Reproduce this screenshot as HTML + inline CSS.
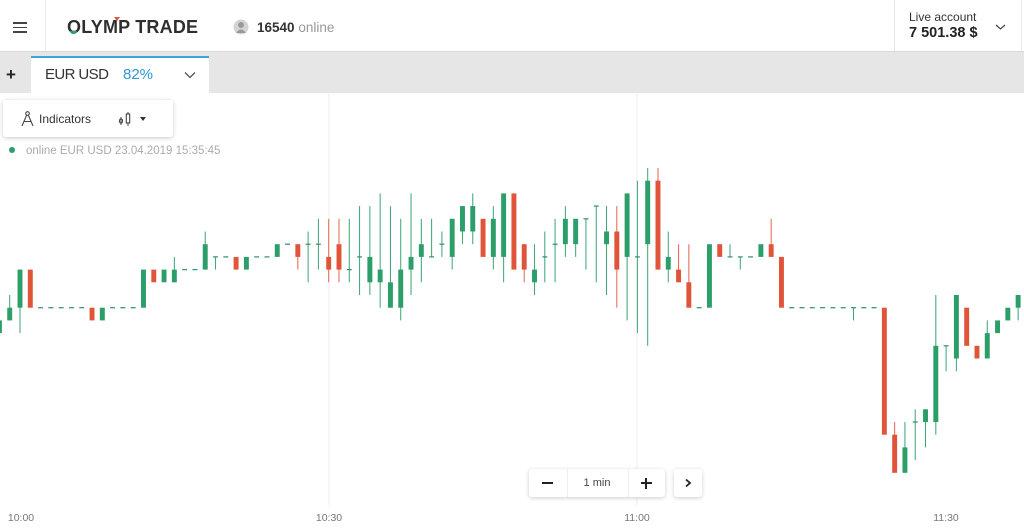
<!DOCTYPE html>
<html><head><meta charset="utf-8">
<style>
*{margin:0;padding:0;box-sizing:border-box}
body{width:1024px;height:528px;overflow:hidden;background:#fff;font-family:"Liberation Sans",Arial,sans-serif;position:relative;color:#333}
.a{position:absolute;white-space:nowrap;line-height:1}
</style></head><body>
<!-- chart -->
<svg class="a" style="left:0;top:0" width="1024" height="528" viewBox="0 0 1024 528">
<line x1="329" y1="93" x2="329" y2="505" stroke="#ededed" stroke-width="1"/>
<line x1="637" y1="93" x2="637" y2="505" stroke="#ededed" stroke-width="1"/>
<g transform="matrix(10.29 0 0 12.7 20 307.7)">
<!-- green wicks -->
<g fill="#3fa777">
<rect x="-1.05" y="-1" width="0.1" height="2"/>
<rect x="-0.05" y="-3" width="0.1" height="5"/>
<rect x="14.95" y="-4" width="0.1" height="2"/>
<rect x="17.95" y="-6" width="0.1" height="3"/>
<rect x="18.95" y="-4" width="0.1" height="1"/>
<rect x="27.95" y="-6" width="0.1" height="4"/>
<rect x="28.95" y="-7" width="0.1" height="4"/>
<rect x="31.95" y="-7" width="0.1" height="5"/>
<rect x="32.95" y="-8" width="0.1" height="7"/>
<rect x="33.95" y="-8" width="0.1" height="7"/>
<rect x="34.95" y="-9" width="0.1" height="9"/>
<rect x="35.95" y="-8" width="0.1" height="8"/>
<rect x="36.95" y="-7" width="0.1" height="8"/>
<rect x="37.95" y="-9" width="0.1" height="8"/>
<rect x="38.95" y="-7" width="0.1" height="5"/>
<rect x="39.95" y="-7" width="0.1" height="3"/>
<rect x="40.95" y="-6" width="0.1" height="2"/>
<rect x="41.95" y="-7" width="0.1" height="4"/>
<rect x="42.95" y="-8" width="0.1" height="3"/>
<rect x="43.95" y="-9" width="0.1" height="4"/>
<rect x="45.95" y="-8" width="0.1" height="5"/>
<rect x="46.95" y="-9" width="0.1" height="7"/>
<rect x="49.95" y="-5" width="0.1" height="4"/>
<rect x="50.95" y="-6" width="0.1" height="4"/>
<rect x="51.95" y="-7" width="0.1" height="5"/>
<rect x="52.95" y="-8" width="0.1" height="4"/>
<rect x="53.95" y="-7" width="0.1" height="3"/>
<rect x="54.95" y="-7" width="0.1" height="4"/>
<rect x="55.95" y="-8" width="0.1" height="6"/>
<rect x="56.95" y="-8" width="0.1" height="7"/>
<rect x="58.95" y="-9" width="0.1" height="10"/>
<rect x="59.95" y="-10" width="0.1" height="12"/>
<rect x="60.95" y="-11" width="0.1" height="14"/>
<rect x="62.95" y="-6" width="0.1" height="4"/>
<rect x="68.95" y="-5" width="0.1" height="1"/>
<rect x="69.95" y="-4" width="0.1" height="1"/>
<rect x="80.95" y="0" width="0.1" height="1"/>
<rect x="85.95" y="9" width="0.1" height="4"/>
<rect x="86.95" y="8" width="0.1" height="4"/>
<rect x="87.95" y="8" width="0.1" height="3"/>
<rect x="88.95" y="-1" width="0.1" height="11"/>
<rect x="89.95" y="3" width="0.1" height="2"/>
<rect x="90.95" y="-1" width="0.1" height="6"/>
<rect x="93.95" y="1" width="0.1" height="3"/>
<rect x="96.95" y="-1" width="0.1" height="2"/>
</g>
<!-- red wicks -->
<g fill="#e4694f">
<rect x="26.95" y="-5" width="0.1" height="2"/>
<rect x="29.95" y="-7" width="0.1" height="5"/>
<rect x="30.95" y="-7" width="0.1" height="5"/>
<rect x="48.95" y="-5" width="0.1" height="3"/>
<rect x="57.95" y="-8" width="0.1" height="8"/>
<rect x="61.95" y="-11" width="0.1" height="8"/>
<rect x="63.95" y="-5" width="0.1" height="3"/>
<rect x="64.95" y="-5" width="0.1" height="5"/>
<rect x="72.95" y="-7" width="0.1" height="3"/>
<rect x="84.95" y="9" width="0.1" height="4"/>
</g>
<!-- green bodies -->
<g fill="#2c9e69">
<rect x="-2.24" y="1" width="0.48" height="1"/>
<rect x="-1.24" y="0" width="0.48" height="1"/>
<rect x="-0.24" y="-3" width="0.48" height="3"/>
<rect x="7.76" y="0" width="0.48" height="1"/>
<rect x="11.76" y="-3" width="0.48" height="3"/>
<rect x="13.76" y="-3" width="0.48" height="1"/>
<rect x="14.76" y="-3" width="0.48" height="1"/>
<rect x="17.76" y="-5" width="0.48" height="2"/>
<rect x="21.76" y="-4" width="0.48" height="1"/>
<rect x="24.76" y="-5" width="0.48" height="1"/>
<rect x="33.76" y="-4" width="0.48" height="2"/>
<rect x="34.76" y="-3" width="0.48" height="1"/>
<rect x="35.76" y="-2" width="0.48" height="2"/>
<rect x="36.76" y="-3" width="0.48" height="3"/>
<rect x="37.76" y="-4" width="0.48" height="1"/>
<rect x="38.76" y="-5" width="0.48" height="1"/>
<rect x="41.76" y="-7" width="0.48" height="3"/>
<rect x="42.76" y="-8" width="0.48" height="2"/>
<rect x="43.76" y="-8" width="0.48" height="2"/>
<rect x="45.76" y="-7" width="0.48" height="3"/>
<rect x="46.76" y="-9" width="0.48" height="5"/>
<rect x="49.76" y="-3" width="0.48" height="1"/>
<rect x="52.76" y="-7" width="0.48" height="2"/>
<rect x="53.76" y="-7" width="0.48" height="2"/>
<rect x="56.76" y="-6" width="0.48" height="1"/>
<rect x="58.76" y="-9" width="0.48" height="5"/>
<rect x="60.76" y="-10" width="0.48" height="5"/>
<rect x="62.76" y="-4" width="0.48" height="1"/>
<rect x="66.76" y="-5" width="0.48" height="5"/>
<rect x="71.76" y="-5" width="0.48" height="1"/>
<rect x="85.76" y="11" width="0.48" height="2"/>
<rect x="87.76" y="8" width="0.48" height="1"/>
<rect x="88.76" y="3" width="0.48" height="6"/>
<rect x="90.76" y="-1" width="0.48" height="5"/>
<rect x="93.76" y="2" width="0.48" height="2"/>
<rect x="94.76" y="1" width="0.48" height="1"/>
<rect x="95.76" y="0" width="0.48" height="1"/>
<rect x="96.76" y="-1" width="0.48" height="1"/>
</g>
<!-- red bodies -->
<g fill="#e0553a">
<rect x="0.76" y="-3" width="0.48" height="3"/>
<rect x="6.76" y="0" width="0.48" height="1"/>
<rect x="12.76" y="-3" width="0.48" height="1"/>
<rect x="20.76" y="-4" width="0.48" height="1"/>
<rect x="26.76" y="-5" width="0.48" height="1"/>
<rect x="29.76" y="-4" width="0.48" height="1"/>
<rect x="30.76" y="-5" width="0.48" height="2"/>
<rect x="44.76" y="-7" width="0.48" height="3"/>
<rect x="47.76" y="-9" width="0.48" height="6"/>
<rect x="48.76" y="-5" width="0.48" height="2"/>
<rect x="57.76" y="-6" width="0.48" height="3"/>
<rect x="61.76" y="-10" width="0.48" height="7"/>
<rect x="63.76" y="-3" width="0.48" height="1"/>
<rect x="64.76" y="-2" width="0.48" height="2"/>
<rect x="67.76" y="-5" width="0.48" height="1"/>
<rect x="72.76" y="-5" width="0.48" height="1"/>
<rect x="73.76" y="-4" width="0.48" height="4"/>
<rect x="83.76" y="0" width="0.48" height="10"/>
<rect x="84.76" y="10" width="0.48" height="3"/>
<rect x="91.76" y="0" width="0.48" height="3"/>
<rect x="92.76" y="3" width="0.48" height="1"/>
</g>
<!-- flat dashes -->
<g fill="#3a9470">
<rect x="1.76" y="-0.05" width="0.48" height="0.1"/>
<rect x="2.76" y="-0.05" width="0.48" height="0.1"/>
<rect x="3.76" y="-0.05" width="0.48" height="0.1"/>
<rect x="4.76" y="-0.05" width="0.48" height="0.1"/>
<rect x="5.76" y="-0.05" width="0.48" height="0.1"/>
<rect x="8.76" y="-0.05" width="0.48" height="0.1"/>
<rect x="9.76" y="-0.05" width="0.48" height="0.1"/>
<rect x="10.76" y="-0.05" width="0.48" height="0.1"/>
<rect x="65.76" y="-0.05" width="0.48" height="0.1"/>
<rect x="74.76" y="-0.05" width="0.48" height="0.1"/>
<rect x="75.76" y="-0.05" width="0.48" height="0.1"/>
<rect x="76.76" y="-0.05" width="0.48" height="0.1"/>
<rect x="77.76" y="-0.05" width="0.48" height="0.1"/>
<rect x="78.76" y="-0.05" width="0.48" height="0.1"/>
<rect x="79.76" y="-0.05" width="0.48" height="0.1"/>
<rect x="80.76" y="-0.05" width="0.48" height="0.1"/>
<rect x="81.76" y="-0.05" width="0.48" height="0.1"/>
<rect x="82.76" y="-0.05" width="0.48" height="0.1"/>
<rect x="15.76" y="-3.05" width="0.48" height="0.1"/>
<rect x="16.76" y="-3.05" width="0.48" height="0.1"/>
<rect x="31.76" y="-3.05" width="0.48" height="0.1"/>
<rect x="18.76" y="-4.05" width="0.48" height="0.1"/>
<rect x="19.76" y="-4.05" width="0.48" height="0.1"/>
<rect x="22.76" y="-4.05" width="0.48" height="0.1"/>
<rect x="23.76" y="-4.05" width="0.48" height="0.1"/>
<rect x="32.76" y="-4.05" width="0.48" height="0.1"/>
<rect x="39.76" y="-4.05" width="0.48" height="0.1"/>
<rect x="50.76" y="-4.05" width="0.48" height="0.1"/>
<rect x="59.76" y="-4.05" width="0.48" height="0.1"/>
<rect x="68.76" y="-4.05" width="0.48" height="0.1"/>
<rect x="69.76" y="-4.05" width="0.48" height="0.1"/>
<rect x="70.76" y="-4.05" width="0.48" height="0.1"/>
<rect x="25.76" y="-5.05" width="0.48" height="0.1"/>
<rect x="27.76" y="-5.05" width="0.48" height="0.1"/>
<rect x="28.76" y="-5.05" width="0.48" height="0.1"/>
<rect x="40.76" y="-5.05" width="0.48" height="0.1"/>
<rect x="51.76" y="-5.05" width="0.48" height="0.1"/>
<rect x="54.76" y="-7.05" width="0.48" height="0.1"/>
<rect x="55.76" y="-8.05" width="0.48" height="0.1"/>
<rect x="86.76" y="8.95" width="0.48" height="0.1"/>
<rect x="89.76" y="2.95" width="0.48" height="0.1"/>
</g>
</g>
</svg>

<!-- header -->
<div class="a" style="left:0;top:0;width:1024px;height:52px;background:#fff;border-bottom:1px solid #d9d9d9"></div>
<div class="a" style="left:45px;top:0;width:1px;height:51px;background:#ededed"></div>
<div class="a" style="left:13px;top:22px;width:14px;height:1.5px;background:#444"></div>
<div class="a" style="left:13px;top:26.5px;width:14px;height:1.5px;background:#444"></div>
<div class="a" style="left:13px;top:31px;width:14px;height:1.5px;background:#444"></div>
<div class="a" style="left:67px;top:18px;font-size:18px;font-weight:bold;color:#2f2f2f;letter-spacing:0.2px">OLYMP TRADE</div>
<div class="a" style="left:70px;top:31px;width:7px;height:3px;background:#2c9e69;border-radius:0 0 3px 3px"></div>
<div class="a" style="left:114px;top:17px;width:0;height:0;border-left:3px solid transparent;border-right:3px solid transparent;border-top:4px solid #e0553a"></div>
<svg class="a" style="left:233px;top:19px" width="16" height="16" viewBox="0 0 16 16"><circle cx="8" cy="8" r="7.5" fill="#d4d4d4"/><circle cx="8" cy="6" r="3" fill="#9a9a9a"/><path d="M3 14 Q8 7 13 14 Z" fill="#9a9a9a"/></svg>
<div class="a" style="left:257px;top:20.9px;font-size:13.5px;color:#333"><b>16540</b> <span style="color:#999">online</span></div>
<div class="a" style="left:894px;top:0;width:1px;height:51px;background:#e6e6e6"></div>
<div class="a" style="left:1021px;top:0;width:1px;height:51px;background:#ededed"></div>
<div class="a" style="left:909px;top:10.5px;font-size:12px;color:#333">Live account</div>
<div class="a" style="left:909px;top:26.3px;font-size:14.5px;font-weight:bold;color:#222">7 501.38 $</div>
<svg class="a" style="left:995px;top:23px" width="11" height="8" viewBox="0 0 11 8"><path d="M1 2 L5.5 6 L10 2" fill="none" stroke="#444" stroke-width="1.2"/></svg>

<!-- tab bar -->
<div class="a" style="left:0;top:52px;width:1024px;height:41px;background:#e6e6e6"></div>
<div class="a" style="left:6px;top:66px;font-size:17px;font-weight:bold;color:#222">+</div>
<div class="a" style="left:31px;top:56px;width:178px;height:37px;background:#fff;border-top:2px solid #3aa6dd"></div>
<div class="a" style="left:45px;top:67.3px;font-size:15px;color:#333;letter-spacing:-0.6px">EUR USD</div>
<div class="a" style="left:123px;top:67.3px;font-size:15px;color:#2b9ad5">82%</div>
<svg class="a" style="left:184px;top:71px" width="12" height="8" viewBox="0 0 12 8"><path d="M1 1.5 L6 6.5 L11 1.5" fill="none" stroke="#555" stroke-width="1.3"/></svg>

<!-- indicators -->
<div class="a" style="left:3px;top:100px;width:170px;height:37px;background:#fff;border-radius:3px;box-shadow:0 1px 4px rgba(0,0,0,0.22)"></div>
<svg class="a" style="left:21px;top:111px" width="13" height="16" viewBox="0 0 13 16"><circle cx="6.5" cy="2.5" r="1.8" fill="none" stroke="#444" stroke-width="1.1"/><path d="M5.6 4.2 L1 15 M7.4 4.2 L12 15 M2.8 10.5 L10.2 10.5" fill="none" stroke="#444" stroke-width="1.1"/></svg>
<div class="a" style="left:39px;top:113.1px;font-size:12px;color:#333">Indicators</div>
<svg class="a" style="left:117px;top:110px" width="16" height="18" viewBox="0 0 16 18"><line x1="4" y1="7" x2="4" y2="15" stroke="#444" stroke-width="1"/><rect x="2.5" y="9" width="3" height="4" rx="1.5" fill="none" stroke="#444" stroke-width="1"/><line x1="11" y1="2" x2="11" y2="16" stroke="#444" stroke-width="1"/><rect x="9.3" y="4" width="3.4" height="9" fill="#fff" stroke="#444" stroke-width="1.1"/></svg>
<div class="a" style="left:140px;top:117px;width:0;height:0;border-left:3.5px solid transparent;border-right:3.5px solid transparent;border-top:4px solid #333"></div>

<!-- status -->
<div class="a" style="left:8.5px;top:147px;width:6px;height:6px;border-radius:50%;background:#2c9e69"></div>
<div class="a" style="left:26px;top:145.6px;font-size:11.5px;color:#ababab">online EUR USD 23.04.2019 15:35:45</div>

<!-- bottom controls -->
<div class="a" style="left:529px;top:469px;width:136px;height:28px;background:#fff;border-radius:3px;box-shadow:0 1px 4px rgba(0,0,0,0.2)"></div>
<div class="a" style="left:566.5px;top:469px;width:1px;height:28px;background:#eee"></div>
<div class="a" style="left:628px;top:469px;width:1px;height:28px;background:#eee"></div>
<div class="a" style="left:542px;top:482px;width:11px;height:2px;background:#222"></div>
<div class="a" style="left:575px;top:477.5px;width:44px;text-align:center;font-size:11px;color:#444">1 min</div>
<div class="a" style="left:640.5px;top:482px;width:11px;height:2px;background:#222"></div>
<div class="a" style="left:645px;top:477.5px;width:2px;height:11px;background:#222"></div>
<div class="a" style="left:674px;top:469px;width:28px;height:28px;background:#fff;border-radius:3px;box-shadow:0 1px 4px rgba(0,0,0,0.2)"></div>
<svg class="a" style="left:684px;top:478px" width="8" height="10" viewBox="0 0 8 10"><path d="M2 1.5 L6 5 L2 8.5" fill="none" stroke="#222" stroke-width="1.8"/></svg>

<!-- axis labels -->
<div class="a" style="left:0;top:512.5px;width:42px;text-align:center;font-size:10.5px;color:#777">10:00</div>
<div class="a" style="left:308px;top:512.5px;width:42px;text-align:center;font-size:10.5px;color:#777">10:30</div>
<div class="a" style="left:616px;top:512.5px;width:42px;text-align:center;font-size:10.5px;color:#777">11:00</div>
<div class="a" style="left:925px;top:512.5px;width:42px;text-align:center;font-size:10.5px;color:#777">11:30</div>
</body></html>
